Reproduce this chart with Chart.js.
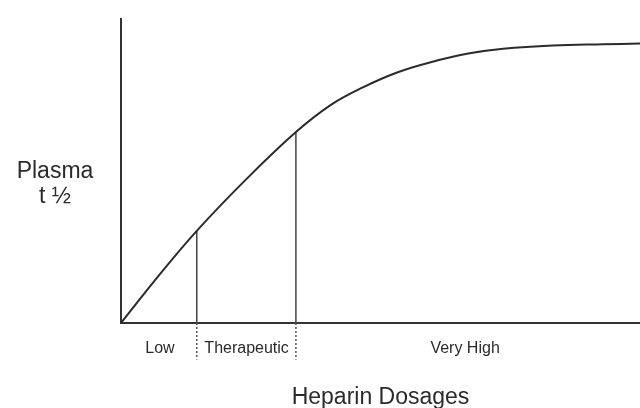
<!DOCTYPE html>
<html>
<head>
<meta charset="utf-8">
<script src="https://cdn.jsdelivr.net/npm/chart.js@4"></script>
<style>
  html, body { margin: 0; padding: 0; background: #fff; }
  #wrap { width: 640px; height: 408px; position: relative; }
</style>
</head>
<body>
<div id="wrap"><canvas id="grafico"></canvas></div>
<script>
// dose (x, 0-100) vs plasma half-life (y, 0-100)
const doses = [0, 7, 14.6, 24.2, 33.7, 40.3, 46.6, 53.2, 59.5, 67.2, 73.6, 83.2, 92.9, 100]
const halfLife = [0, 15.0, 30.3, 47.4, 62.8, 71.6, 77.5, 82.4, 85.7, 88.7, 90.2, 91.3, 91.7, 91.9]

// zone edges on the dose axis and the curve height there
const zoneEdges = [14.6, 33.7]
const zoneLevels = [30.3, 62.8]
const dottedDepth = -12

const zoneNames = ['Low', 'Therapeutic', 'Very High']
const zoneCenters = [7.5, 24.2, 66.3]

const ink = '#2b2b2b'
const fontFamily = '"Liberation Sans", Arial, sans-serif'

const datasets = [{
  data: doses.map((d, i) => ({ x: d, y: halfLife[i] })),
  borderColor: ink,
  borderWidth: 2,
  tension: 0.4,
  pointRadius: 0,
  clip: false
}]

zoneEdges.forEach((e, i) => {
  datasets.push({
    data: [{ x: e, y: 0 }, { x: e, y: zoneLevels[i] }],
    borderColor: '#444',
    borderWidth: 1.5,
    pointRadius: 0
  })
  datasets.push({
    data: [{ x: e, y: 0 }, { x: e, y: dottedDepth }],
    borderColor: '#555',
    borderWidth: 1.5,
    borderDash: [2, 2],
    pointRadius: 0,
    clip: false
  })
})

// y label drawn horizontally
const yLabel = {
  id: 'yLabel',
  afterDraw(chart) {
    const c = chart.ctx
    c.save()
    c.fillStyle = ink
    c.font = '23px ' + fontFamily
    c.textAlign = 'center'
    c.textBaseline = 'middle'
    c.fillText('Plasma', 55, 172)
    c.fillText('t ½', 55, 197)
    c.restore()
  }
}

const config = {
  type: 'line',
  data: { datasets },
  options: {
    responsive: true,
    maintainAspectRatio: false,
    animation: false,
    layout: { padding: { top: 19, left: 0, right: 0, bottom: 0 } },
    plugins: { legend: { display: false }, tooltip: { enabled: false } },
    scales: {
      x: {
        type: 'linear',
        min: 0,
        max: 100,
        afterFit: (s) => { s.height = 85 },
        afterBuildTicks: (s) => { s.ticks = zoneCenters.map(v => ({ value: v })) },
        grid: { display: false, drawTicks: false },
        border: { display: true, color: '#333', width: 2 },
        ticks: {
          autoSkip: false,
          maxRotation: 0,
          padding: 16,
          color: ink,
          font: { size: 16, family: fontFamily },
          callback: (v, i) => zoneNames[i]
        },
        title: {
          display: true,
          text: 'Heparin Dosages',
          color: ink,
          font: { size: 23, family: fontFamily },
          padding: { top: 0, bottom: -3 }
        }
      },
      y: {
        min: 0,
        max: 100,
        afterFit: (s) => { s.width = 121 },
        grid: { display: false, drawTicks: false },
        border: { display: true, color: '#333', width: 2 },
        ticks: { display: false }
      }
    }
  },
  plugins: [yLabel]
}

new Chart(document.getElementById('grafico'), config)
</script>
</body>
</html>
